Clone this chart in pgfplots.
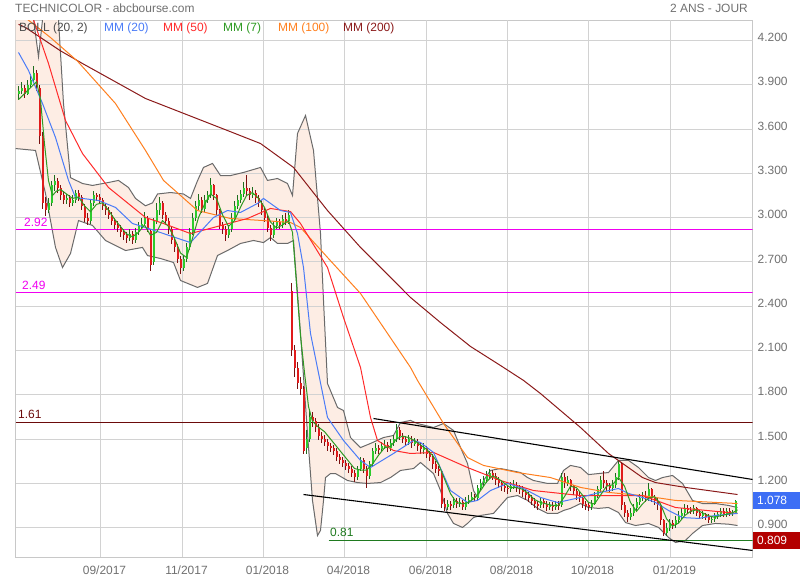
\documentclass[border=0pt]{standalone}
\usepackage{fontspec}
\setmainfont{Liberation Sans}
\usepackage{pgfplots}
\usepackage{pgfplotstable}
\pgfplotsset{compat=1.18}
\usepgfplotslibrary{fillbetween}
\definecolor{gridc}{HTML}{D2D2D2}
\definecolor{framec}{HTML}{C8C8C8}
\definecolor{labc}{HTML}{707070}
\definecolor{peach}{HTML}{FDEBE1}
\definecolor{bollc}{HTML}{6A6A6A}
\definecolor{mm20}{HTML}{4A7BF7}
\definecolor{mm50}{HTML}{FF2A2A}
\definecolor{mm7}{HTML}{2E9A22}
\definecolor{mm100}{HTML}{FF7F1E}
\definecolor{mm200}{HTML}{8B1A1A}
\definecolor{upc}{HTML}{2DCB2D}
\definecolor{upw}{HTML}{1E6E1E}
\definecolor{dnc}{HTML}{E01B1B}
\definecolor{dnw}{HTML}{7A1010}
\definecolor{magc}{HTML}{F000F0}
\definecolor{lvl161}{HTML}{6B0A0A}
\definecolor{lvl081}{HTML}{1F7A1F}
\definecolor{boxblue}{HTML}{3D6EF5}
\definecolor{boxred}{HTML}{B30000}

\pgfplotstableread{
x o c h l
18 3.84 3.86 3.89 3.80
21 3.86 3.88 3.92 3.84
24 3.88 3.84 3.90 3.81
27 3.84 3.90 3.93 3.83
30 3.90 3.93 3.97 3.88
33 3.93 3.98 4.03 3.91
36 3.98 3.90 4.00 3.86
39 3.88 3.55 3.90 3.50
42 3.55 3.10 3.58 3.06
45 3.10 3.05 3.14 3.01
48 3.05 3.10 3.13 3.03
51 3.10 3.22 3.25 3.08
54 3.22 3.25 3.29 3.18
57 3.25 3.20 3.27 3.17
60 3.20 3.15 3.22 3.12
63 3.15 3.12 3.18 3.09
66 3.12 3.13 3.16 3.09
69 3.13 3.10 3.15 3.07
72 3.10 3.12 3.15 3.08
75 3.12 3.17 3.19 3.10
78 3.17 3.14 3.19 3.11
81 3.14 3.08 3.15 3.05
84 3.08 3.00 3.09 2.97
87 3.00 2.98 3.03 2.95
90 2.98 3.10 3.12 2.96
93 3.10 3.15 3.18 3.08
96 3.15 3.14 3.17 3.11
99 3.14 3.12 3.16 3.09
102 3.12 3.08 3.13 3.05
105 3.08 3.05 3.10 3.02
108 3.05 3.02 3.07 2.99
111 3.02 2.98 3.04 2.95
114 2.98 2.95 3.00 2.92
117 2.95 2.93 2.98 2.90
120 2.93 2.90 2.95 2.87
123 2.90 2.88 2.92 2.85
126 2.88 2.86 2.90 2.83
129 2.86 2.89 2.92 2.84
132 2.89 2.85 2.91 2.82
135 2.85 2.90 2.93 2.83
138 2.90 2.94 2.97 2.88
141 2.94 2.96 3.00 2.92
144 2.96 3.00 3.04 2.94
147 3.00 2.93 3.01 2.90
150 2.91 2.68 2.92 2.64
153 2.70 2.98 3.00 2.68
156 2.98 3.05 3.10 2.96
159 3.05 3.10 3.14 3.02
162 3.10 3.02 3.11 2.99
165 3.02 2.98 3.04 2.95
168 2.98 2.92 3.00 2.89
171 2.92 2.85 2.94 2.82
174 2.85 2.80 2.87 2.77
177 2.80 2.72 2.82 2.69
180 2.72 2.66 2.74 2.62
183 2.66 2.72 2.75 2.64
186 2.72 2.80 2.83 2.70
189 2.80 2.90 2.93 2.78
192 2.90 3.00 3.03 2.88
195 3.00 3.08 3.11 2.98
198 3.08 3.12 3.16 3.05
201 3.12 3.06 3.14 3.03
204 3.06 3.12 3.15 3.04
207 3.12 3.15 3.18 3.10
210 3.15 3.22 3.27 3.13
213 3.22 3.15 3.23 3.12
216 3.15 3.05 3.16 3.02
219 3.05 2.95 3.06 2.92
222 2.95 2.92 2.97 2.89
225 2.92 2.88 2.94 2.84
228 2.88 2.92 2.95 2.86
231 2.92 3.00 3.03 2.90
234 3.00 3.08 3.11 2.98
237 3.08 3.12 3.15 3.06
240 3.12 3.16 3.19 3.10
243 3.16 3.20 3.24 3.14
246 3.20 3.18 3.29 3.15
249 3.18 3.15 3.20 3.12
252 3.15 3.17 3.21 3.13
255 3.17 3.13 3.19 3.10
258 3.13 3.10 3.15 3.07
261 3.10 3.05 3.12 3.02
264 3.05 3.00 3.07 2.97
267 3.00 2.93 3.02 2.90
270 2.93 2.88 2.95 2.84
273 2.88 2.94 2.97 2.86
276 2.94 2.97 3.00 2.92
279 2.97 2.95 2.99 2.92
282 2.95 2.99 3.02 2.93
285 2.99 2.98 3.03 2.95
288 2.98 3.02 3.05 2.96
291 2.50 2.10 2.56 2.06
294 2.10 1.98 2.14 1.92
297 1.98 1.88 2.02 1.84
300 1.88 1.84 1.92 1.80
303 1.84 1.42 1.86 1.40
306 1.44 1.50 1.56 1.40
309 1.50 1.65 1.70 1.48
312 1.65 1.62 1.68 1.58
315 1.62 1.58 1.64 1.55
318 1.58 1.52 1.60 1.49
321 1.52 1.50 1.55 1.47
324 1.50 1.48 1.53 1.45
327 1.48 1.45 1.50 1.42
330 1.45 1.44 1.47 1.41
333 1.44 1.42 1.46 1.39
336 1.42 1.38 1.44 1.35
339 1.38 1.36 1.40 1.33
342 1.36 1.34 1.38 1.31
345 1.34 1.32 1.36 1.29
348 1.32 1.30 1.34 1.27
351 1.30 1.27 1.32 1.24
354 1.27 1.24 1.29 1.21
357 1.24 1.30 1.32 1.22
360 1.30 1.36 1.38 1.28
363 1.36 1.30 1.37 1.27
366 1.30 1.25 1.32 1.17
369 1.25 1.33 1.35 1.23
372 1.33 1.42 1.44 1.31
375 1.42 1.44 1.47 1.40
378 1.44 1.43 1.46 1.40
381 1.43 1.45 1.48 1.41
384 1.45 1.46 1.49 1.43
387 1.46 1.44 1.48 1.41
390 1.44 1.47 1.50 1.42
393 1.47 1.50 1.53 1.45
396 1.50 1.56 1.60 1.48
399 1.56 1.52 1.58 1.49
402 1.52 1.50 1.54 1.47
405 1.50 1.48 1.52 1.45
408 1.48 1.50 1.53 1.46
411 1.50 1.47 1.52 1.44
414 1.47 1.48 1.51 1.45
417 1.48 1.45 1.50 1.42
420 1.45 1.43 1.47 1.40
423 1.43 1.44 1.47 1.40
426 1.44 1.40 1.45 1.37
429 1.40 1.38 1.42 1.35
432 1.38 1.33 1.40 1.30
435 1.33 1.30 1.35 1.27
438 1.30 1.28 1.32 1.25
441 1.28 1.06 1.29 1.03
444 1.06 1.04 1.10 1.01
447 1.04 1.06 1.09 1.02
450 1.06 1.05 1.08 1.02
453 1.05 1.08 1.11 1.03
456 1.08 1.06 1.10 1.03
459 1.06 1.07 1.10 1.04
462 1.07 1.04 1.09 1.02
465 1.04 1.08 1.11 1.02
468 1.08 1.09 1.12 1.06
471 1.09 1.11 1.14 1.07
474 1.11 1.10 1.13 1.08
477 1.10 1.17 1.19 1.09
480 1.17 1.20 1.23 1.15
483 1.20 1.22 1.25 1.18
486 1.22 1.25 1.28 1.20
489 1.25 1.27 1.30 1.23
492 1.27 1.25 1.29 1.22
495 1.25 1.22 1.27 1.19
498 1.22 1.20 1.24 1.17
501 1.20 1.18 1.22 1.15
504 1.18 1.17 1.20 1.14
507 1.17 1.16 1.19 1.13
510 1.16 1.18 1.21 1.14
513 1.18 1.19 1.22 1.16
516 1.19 1.17 1.21 1.14
519 1.17 1.16 1.19 1.13
522 1.16 1.14 1.18 1.11
525 1.14 1.12 1.16 1.09
528 1.12 1.10 1.14 1.07
531 1.10 1.08 1.12 1.05
534 1.08 1.06 1.10 1.03
537 1.06 1.05 1.08 1.02
540 1.05 1.08 1.10 1.03
543 1.08 1.06 1.10 1.03
546 1.06 1.04 1.08 1.01
549 1.04 1.05 1.07 1.02
552 1.05 1.04 1.07 1.01
555 1.04 1.06 1.08 1.02
558 1.06 1.05 1.08 1.02
561 1.05 1.24 1.27 1.04
564 1.24 1.20 1.27 1.17
567 1.20 1.22 1.25 1.18
570 1.22 1.18 1.23 1.15
573 1.18 1.15 1.19 1.12
576 1.15 1.12 1.16 1.09
579 1.12 1.10 1.14 1.07
582 1.10 1.06 1.11 1.03
585 1.06 1.05 1.08 1.02
588 1.05 1.04 1.07 1.01
591 1.04 1.06 1.09 1.02
594 1.06 1.12 1.14 1.05
597 1.12 1.16 1.18 1.10
600 1.16 1.22 1.25 1.14
603 1.22 1.20 1.28 1.17
606 1.20 1.18 1.22 1.15
609 1.18 1.17 1.20 1.14
612 1.17 1.19 1.22 1.15
615 1.19 1.24 1.27 1.17
618 1.24 1.33 1.36 1.22
621 1.33 1.05 1.34 1.02
624 1.05 1.00 1.07 0.97
627 1.00 0.97 1.02 0.94
630 0.97 1.00 1.03 0.95
633 1.00 1.03 1.06 0.98
636 1.03 1.07 1.10 1.01
639 1.07 1.10 1.13 1.05
642 1.10 1.11 1.14 1.08
645 1.11 1.10 1.15 1.07
648 1.10 1.16 1.20 1.08
651 1.16 1.10 1.17 1.07
654 1.10 1.08 1.12 1.05
657 1.08 1.05 1.10 1.02
660 1.05 0.95 1.06 0.92
663 0.95 0.86 0.96 0.84
666 0.86 0.90 0.93 0.84
669 0.90 0.93 0.96 0.88
672 0.93 0.92 0.95 0.89
675 0.92 0.95 0.98 0.90
678 0.95 0.98 1.01 0.93
681 0.98 1.00 1.03 0.96
684 1.00 1.03 1.06 0.98
687 1.03 1.02 1.05 0.99
690 1.02 1.01 1.04 0.99
693 1.01 1.03 1.05 0.99
696 1.03 1.00 1.04 0.98
699 1.00 0.98 1.02 0.96
702 0.98 0.99 1.01 0.96
705 0.99 0.97 1.00 0.95
708 0.97 0.95 0.99 0.93
711 0.95 0.96 0.98 0.93
714 0.96 0.98 1.00 0.94
717 0.98 0.99 1.01 0.96
720 0.99 1.01 1.03 0.97
723 1.01 0.99 1.03 0.97
726 0.99 1.01 1.03 0.97
729 1.01 1.00 1.03 0.98
732 1.00 1.00 1.02 0.98
735 1.00 1.08 1.09 0.99
}\candles

\pgfplotstableread{
x v
15 4.40
32 4.40
38 4.09
43 4.40
56 4.45
58 4.34
63 3.773
70 3.271
82 3.231
92 3.218
108 3.238
118 3.252
128 3.204
135 3.13
145 3.08
152 3.10
157 3.16
170 3.17
183 3.16
190 3.13
197 3.25
203 3.34
212 3.367
220 3.285
230 3.285
243 3.306
260 3.340
267 3.252
277 3.265
287 3.231
292 3.150
297 3.570
305 3.692
313 3.455
320 2.892
323 2.438
327 1.876
337 1.714
343 1.693
350 1.510
360 1.442
370 1.470
383 1.510
393 1.524
400 1.612
410 1.626
417 1.605
433 1.578
443 1.605
453 1.558
460 1.443
467 1.334
473 1.151
477 1.104
483 1.219
490 1.287
500 1.300
510 1.287
520 1.273
527 1.239
533 1.219
547 1.199
557 1.199
563 1.287
570 1.321
580 1.307
588 1.259
598 1.266
608 1.273
618 1.355
628 1.355
638 1.307
648 1.239
655 1.219
662 1.239
672 1.253
682 1.199
692 1.084
702 1.063
715 1.063
728 1.050
737 1.036
}\bollup

\pgfplotstableread{
x v
15 3.468
35 3.455
45 3.163
55 2.798
62 2.662
70 2.757
78 2.980
92 2.947
105 2.845
125 2.777
142 2.798
147 2.743
160 2.723
173 2.696
180 2.574
197 2.527
207 2.554
217 2.743
227 2.777
240 2.825
253 2.845
263 2.831
270 2.865
277 2.825
287 2.825
293 2.845
300 2.215
307 1.537
312 1.083
317 0.846
320 0.881
323 1.083
325 1.239
330 1.266
335 1.266
347 1.219
357 1.205
367 1.199
380 1.205
390 1.239
400 1.287
413 1.300
420 1.341
433 1.266
440 1.151
447 0.996
453 0.928
462 0.901
467 0.928
473 0.968
480 0.982
493 0.996
507 1.104
517 1.117
527 1.084
537 1.030
547 0.996
557 0.996
563 1.016
570 1.030
580 1.063
588 1.036
598 1.030
608 1.036
618 1.002
625 0.934
635 0.914
648 0.928
658 0.901
668 0.833
675 0.799
685 0.813
692 0.860
702 0.914
715 0.928
728 0.923
737 0.914
}\bolllow

\pgfplotstableread{
x v
18 3.80
24 3.84
30 3.88
36 3.92
40 3.80
44 3.50
48 3.25
52 3.15
56 3.18
60 3.19
66 3.16
72 3.13
78 3.14
84 3.08
90 3.04
96 3.09
102 3.10
108 3.05
114 2.99
120 2.94
126 2.89
132 2.87
138 2.90
144 2.95
150 2.88
156 2.90
162 2.98
168 2.94
174 2.86
180 2.76
186 2.73
192 2.86
198 3.00
204 3.09
210 3.16
216 3.13
222 3.02
228 2.94
234 2.98
240 3.07
246 3.15
252 3.17
258 3.13
264 3.07
270 2.97
276 2.93
282 2.95
288 2.98
292 2.90
296 2.55
300 2.20
304 1.95
308 1.72
312 1.62
318 1.58
324 1.55
330 1.50
336 1.45
342 1.40
348 1.35
354 1.30
360 1.29
366 1.29
372 1.33
378 1.39
384 1.44
390 1.45
396 1.50
402 1.52
408 1.51
414 1.49
420 1.46
426 1.43
432 1.39
438 1.33
444 1.23
450 1.13
456 1.07
462 1.06
468 1.07
474 1.10
480 1.15
486 1.21
492 1.25
498 1.23
504 1.20
510 1.17
516 1.17
522 1.16
528 1.13
534 1.09
540 1.07
546 1.06
552 1.05
558 1.05
564 1.11
570 1.18
576 1.17
582 1.12
588 1.07
594 1.06
600 1.12
606 1.18
612 1.19
618 1.24
624 1.18
630 1.07
636 1.01
642 1.06
648 1.10
654 1.11
660 1.06
666 0.96
672 0.91
678 0.93
684 0.98
690 1.01
696 1.02
702 1.00
708 0.98
714 0.97
720 0.98
726 0.99
732 1.00
737 1.02
}\mmseven

\pgfplotstableread{
x v
18 4.119
28 3.997
42 3.773
55 3.543
68 3.252
75 3.136
98 3.116
115 3.069
132 2.960
145 2.933
163 2.892
190 2.831
213 3.001
227 3.048
240 3.035
257 3.096
263 3.130
280 3.048
290 3.035
297 2.892
303 2.662
310 2.215
327 1.646
343 1.490
360 1.355
370 1.307
393 1.402
413 1.490
420 1.476
433 1.409
450 1.151
467 1.070
477 1.084
490 1.151
507 1.199
523 1.165
540 1.104
557 1.070
580 1.104
595 1.131
618 1.165
628 1.131
642 1.104
655 1.070
668 1.016
682 0.968
698 0.962
715 0.982
737 0.996
}\mmtwenty

\pgfplotstableread{
x v
25 4.42
33 4.34
48 4.044
65 3.658
82 3.434
108 3.204
145 3.001
163 2.960
190 2.892
213 2.933
247 2.994
270 3.062
290 3.041
300 2.960
327 2.662
343 2.323
360 1.985
370 1.646
377 1.490
393 1.422
410 1.402
433 1.409
467 1.307
500 1.219
533 1.151
580 1.117
608 1.117
642 1.117
675 1.036
737 0.996
}\mmfifty

\pgfplotstableread{
x v
20 4.38
50 4.22
77 4.06
115 3.773
145 3.455
163 3.252
197 3.048
230 2.994
263 2.980
290 2.967
300 2.933
327 2.730
360 2.486
410 1.985
417 1.897
443 1.605
467 1.375
483 1.321
517 1.273
550 1.239
580 1.172
608 1.138
642 1.117
675 1.084
737 1.063
}\mmhundred

\pgfplotstableread{
x v
18 4.31
25 4.288
60 4.13
82 4.044
145 3.807
227 3.590
260 3.502
293 3.340
327 3.048
360 2.798
410 2.459
440 2.289
470 2.127
500 1.998
523 1.897
540 1.808
580 1.578
608 1.402
642 1.239
655 1.205
685 1.172
737 1.124
}\mmtwohundred

\begin{document}
\begin{tikzpicture}
\begin{axis}[
  at={(15.5bp,22.5bp)}, anchor=south west,
  scale only axis, width=737bp, height=537bp,
  xmin=15, xmax=752, ymin=0.6973, ymax=4.3355,
  axis line style={draw=framec, line width=1bp},
  tick style={draw=none},
  xtick={100,182,263,344,426,507,588,670},
  xticklabels={09/2017,11/2017,01/2018,04/2018,06/2018,08/2018,10/2018,01/2019},
  ytick={0.9,1.2,1.5,1.8,2.1,2.4,2.7,3.0,3.3,3.6,3.9,4.2},
  yticklabels={0.900,1.200,1.500,1.800,2.100,2.400,2.700,3.000,3.300,3.600,3.900,4.200},
  yticklabel pos=right,
  grid=major,
  major grid style={draw=gridc, line width=1bp},
  tick label style={font=\fontsize{12}{14}\selectfont, text=labc, inner sep=0pt},
  xticklabel style={anchor=north, yshift=-8bp, xshift=4bp},
  yticklabel style={anchor=west, xshift=5bp, yshift=3bp},
  /pgf/number format/assume math mode=true,
  unbounded coords=jump,
]
% grid lines, drawn explicitly on pixel centres
\addplot[gridc, line width=1bp, forget plot] coordinates {
(100,0.6973) (100,4.3355) (100,nan)
(182,0.6973) (182,4.3355) (182,nan)
(263,0.6973) (263,4.3355) (263,nan)
(344,0.6973) (344,4.3355) (344,nan)
(426,0.6973) (426,4.3355) (426,nan)
(507,0.6973) (507,4.3355) (507,nan)
(588,0.6973) (588,4.3355) (588,nan)
(670,0.6973) (670,4.3355) (670,nan)
(15,0.9) (752,0.9) (752,nan)
(15,1.2) (752,1.2) (752,nan)
(15,1.5) (752,1.5) (752,nan)
(15,1.8) (752,1.8) (752,nan)
(15,2.1) (752,2.1) (752,nan)
(15,2.4) (752,2.4) (752,nan)
(15,2.7) (752,2.7) (752,nan)
(15,3.0) (752,3.0) (752,nan)
(15,3.3) (752,3.3) (752,nan)
(15,3.6) (752,3.6) (752,nan)
(15,3.9) (752,3.9) (752,nan)
(15,4.2) (752,4.2) (752,nan)
};
% Bollinger band
\addplot[draw=none, name path=bu, forget plot] table[x=x,y=v]{\bollup};
\addplot[draw=none, name path=bl, forget plot] table[x=x,y=v]{\bolllow};
\addplot[fill=peach, fill opacity=0.9, draw=none, forget plot] fill between[of=bu and bl];
\addplot[draw=bollc, line width=1bp, forget plot] table[x=x,y=v]{\bollup};
\addplot[draw=bollc, line width=1bp, forget plot] table[x=x,y=v]{\bolllow};
% horizontal levels
\addplot[magc, line width=1bp, forget plot] coordinates {(15,2.92) (752,2.92)};
\addplot[magc, line width=1bp, forget plot] coordinates {(15,2.49) (752,2.49)};
\addplot[lvl161, line width=1bp, forget plot] coordinates {(15,1.61) (752,1.61)};
\addplot[lvl081, line width=1bp, forget plot] coordinates {(328,0.81) (752,0.81)};
% candle wicks
\addplot[forget plot, draw=none, mark=none,
  x filter/.expression={\thisrow{c}>=\thisrow{o} ? x : nan},
  error bars/.cd, y dir=both, y explicit, error mark=none,
  error bar style={draw=upw, line width=0.8bp}]
  table[x=x, y expr={(\thisrow{h}+\thisrow{l})/2}, y error expr={(\thisrow{h}-\thisrow{l})/2}]{\candles};
\addplot[forget plot, draw=none, mark=none,
  x filter/.expression={\thisrow{c}<\thisrow{o} ? x : nan},
  error bars/.cd, y dir=both, y explicit, error mark=none,
  error bar style={draw=dnw, line width=0.8bp}]
  table[x=x, y expr={(\thisrow{h}+\thisrow{l})/2}, y error expr={(\thisrow{h}-\thisrow{l})/2}]{\candles};
% candle bodies
\addplot[forget plot, draw=none, mark=none,
  x filter/.expression={\thisrow{c}>=\thisrow{o} ? x : nan},
  error bars/.cd, y dir=both, y explicit, error mark=none,
  error bar style={draw=upc, line width=2bp}]
  table[x=x, y expr={(\thisrow{o}+\thisrow{c})/2}, y error expr={abs(\thisrow{c}-\thisrow{o})/2}]{\candles};
\addplot[forget plot, draw=none, mark=none,
  x filter/.expression={\thisrow{c}<\thisrow{o} ? x : nan},
  error bars/.cd, y dir=both, y explicit, error mark=none,
  error bar style={draw=dnc, line width=2bp}]
  table[x=x, y expr={(\thisrow{o}+\thisrow{c})/2}, y error expr={abs(\thisrow{c}-\thisrow{o})/2}]{\candles};
% moving averages
\addplot[mm200, line width=1bp, forget plot] table[x=x,y=v]{\mmtwohundred};
\addplot[mm100, line width=1bp, forget plot] table[x=x,y=v]{\mmhundred};
\addplot[mm50, line width=1bp, forget plot] table[x=x,y=v]{\mmfifty};
\addplot[mm20, line width=1bp, forget plot] table[x=x,y=v]{\mmtwenty};
\addplot[mm7, line width=1bp, forget plot] table[x=x,y=v]{\mmseven};
% channel lines
\addplot[black, line width=1.1bp, forget plot] coordinates {(373,1.639) (752,1.226)};
\addplot[black, line width=1.1bp, forget plot] coordinates {(303,1.124) (752,0.745)};
\end{axis}
% titles and legend
\begin{scope}[every node/.style={inner sep=0pt, font=\fontsize{12}{14}\selectfont}]
\node[anchor=base west, text=labc] at (15bp,567.5bp) {TECHNICOLOR - abcbourse.com};
\node[anchor=base east, text=labc] at (748bp,567.5bp) {2 ANS - JOUR};
\node[anchor=base west, text=black!70] at (19bp,548.5bp) {BOLL (20, 2)};
\node[anchor=base west, text=mm20] at (104bp,548.5bp) {MM (20)};
\node[anchor=base west, text=mm50] at (163bp,548.5bp) {MM (50)};
\node[anchor=base west, text=mm7] at (223bp,548.5bp) {MM (7)};
\node[anchor=base west, text=mm100] at (278bp,548.5bp) {MM (100)};
\node[anchor=base west, text=mm200] at (343bp,548.5bp) {MM (200)};
\node[anchor=base west, text=magc] at (24bp,353bp) {2.92};
\node[anchor=base west, text=magc] at (22bp,290bp) {2.49};
\node[anchor=base west, text=lvl161] at (18bp,161bp) {1.61};
\node[anchor=base west, text=lvl081] at (330bp,43bp) {0.81};
\fill[boxblue] (753bp,71bp) rectangle (800bp,88bp);
\node[anchor=base west, text=white] at (757bp,75.5bp) {1.078};
\fill[boxred] (753bp,31bp) rectangle (800bp,48bp);
\node[anchor=base west, text=white] at (757bp,35.5bp) {0.809};
\end{scope}
\pgfresetboundingbox
\path (0,0) rectangle (800bp,580bp);
\end{tikzpicture}
\end{document}
